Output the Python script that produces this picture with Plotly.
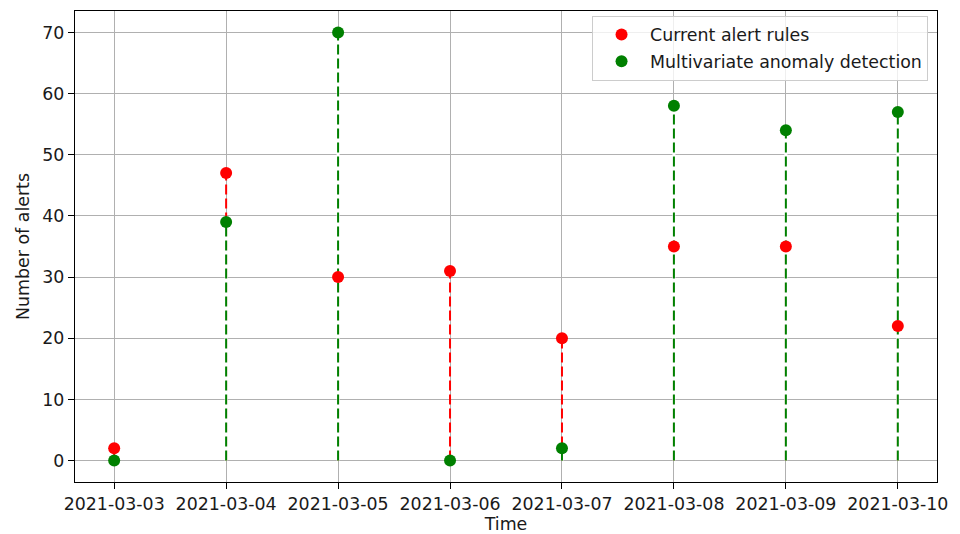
import plotly.graph_objects as go

# Daily alert counts for the two detection approaches
dates = ["2021-03-03", "2021-03-04", "2021-03-05", "2021-03-06",
         "2021-03-07", "2021-03-08", "2021-03-09", "2021-03-10"]
current_rules = [2, 47, 30, 31, 20, 35, 35, 22]
multivariate = [0, 39, 70, 0, 2, 58, 54, 57]

series = [
    ("Current alert rules", current_rules, "#ff0000"),
    ("Multivariate anomaly detection", multivariate, "#008000"),
]

FONT = dict(family="DejaVu Sans, sans-serif", size=17.4, color="#1a1a1a")

fig = go.Figure()

# dashed stems first (one trace per stem so every dash pattern starts at zero);
# the later series gets a white backing so it fully hides the stems beneath it
for k, (name, vals, color) in enumerate(series):
    for d, v in zip(dates, vals):
        if k > 0:
            fig.add_trace(go.Scatter(
                x=[d, d], y=[0, v], mode="lines",
                line=dict(color="white", width=3),
                showlegend=False, hoverinfo="skip",
            ))
        fig.add_trace(go.Scatter(
            x=[d, d], y=[0, v], mode="lines",
            line=dict(color=color, width=2, dash="10px,4px"),
            showlegend=False, hoverinfo="skip",
        ))

# head markers on top of all stems
for i, (name, vals, color) in enumerate(series):
    fig.add_trace(go.Scatter(
        x=dates, y=vals, mode="markers", name=name,
        marker=dict(color=color, size=12, line=dict(width=0)),
        legendgroup=f"g{i}",
    ))

fig.update_layout(
    width=960, height=534,
    margin=dict(l=75, r=23, t=11, b=52),
    paper_bgcolor="white", plot_bgcolor="white",
    font=FONT,
    legend=dict(
        x=0.9896, y=0.99, xanchor="right", yanchor="top",
        bgcolor="rgba(255,255,255,0.8)", bordercolor="#cccccc", borderwidth=1,
        font=FONT, tracegroupgap=1, itemwidth=47,
    ),
)

fig.update_xaxes(
    type="date", automargin=False,
    range=["2021-03-02 15:36", "2021-03-10 08:24"],
    tickmode="array", tickvals=dates, ticktext=dates,
    ticks="outside", ticklen=6, tickwidth=1.3, tickcolor="#000",
    showgrid=True, gridcolor="#b0b0b0", gridwidth=1.3,
    showline=True, linecolor="#000", linewidth=1.3, mirror=True,
    zeroline=False,
    title=dict(text="Time", font=FONT, standoff=4),
)
fig.update_yaxes(
    automargin=False,
    range=[-3.5, 73.5],
    tickmode="linear", tick0=0, dtick=10,
    ticks="outside", ticklen=6, tickwidth=1.3, tickcolor="#000",
    showgrid=True, gridcolor="#b0b0b0", gridwidth=1.3,
    showline=True, linecolor="#000", linewidth=1.3, mirror=True,
    zeroline=False,
    title=dict(text="Number of alerts", font=FONT, standoff=8),
)

fig.write_html("out.html")
